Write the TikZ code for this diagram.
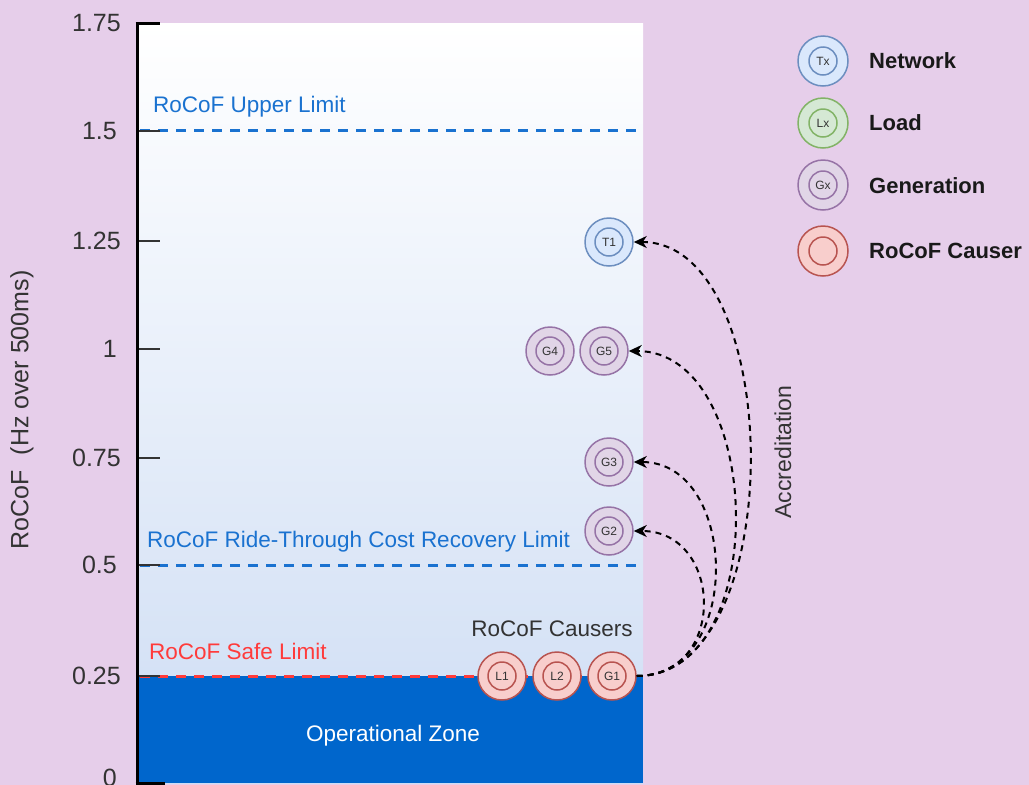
\documentclass[tikz,border=0pt]{standalone}
\usepackage{fontspec}
\setmainfont{Liberation Sans}
\usetikzlibrary{arrows.meta}
\definecolor{bg}{RGB}{230,206,234}
\definecolor{plotblue}{RGB}{206,221,244}
\definecolor{opzone}{HTML}{0066CC}
\definecolor{limitblue}{HTML}{1A72D0}
\definecolor{limitred}{HTML}{FF3B3B}
\definecolor{txt}{HTML}{333333}
\definecolor{netfill}{HTML}{DAE8FC}
\definecolor{netdraw}{HTML}{6C8EBF}
\definecolor{genfill}{HTML}{E1D5E7}
\definecolor{gendraw}{HTML}{9673A6}
\definecolor{loadfill}{HTML}{D5E8D4}
\definecolor{loaddraw}{HTML}{82B366}
\definecolor{causefill}{HTML}{F8CECC}
\definecolor{causedraw}{HTML}{B85450}
\begin{document}
\begin{tikzpicture}[x=1pt,y=-1pt,
  ring/.style 2 args={circle, draw=#2, fill=#1, line width=1.5pt, minimum size=48pt, inner sep=0pt,
    font=\fontsize{12}{12}\selectfont, text=txt,
    path picture={\draw[#2, line width=1.5pt] (path picture bounding box.center) circle (14pt);}},
  ticklabel/.style={anchor=east, text=txt, font=\fontsize{25}{30}\selectfont, inner sep=0pt},
  tickline/.style={draw=txt, line width=1.5pt},
  limitline/.style={line width=3pt, dash pattern=on 10pt off 8pt},
  limitlabel/.style={anchor=west, inner sep=0pt, font=\fontsize{22.5}{27}\selectfont},
  legendlabel/.style={anchor=west, inner sep=0pt, text=black!90, font=\fontsize{22}{26}\selectfont\bfseries},
  acc/.style={draw=black, line width=2pt, dash pattern=on 6pt off 5pt, -{Stealth[length=13pt,width=12pt,inset=4pt]}}
]
\fill[bg] (0,0) rectangle (1029,785);
\useasboundingbox (0,0) rectangle (1029,785);

% plot area
\shade[top color=white, bottom color=plotblue] (137,23) rectangle (643,783);
\fill[opzone] (137,676) rectangle (643,783);
\node[text=white, font=\fontsize{22.5}{27}\selectfont, inner sep=0pt] (opz) at (393,736) {Operational Zone};

% limit lines
\draw[limitline, limitblue] (140,130) -- (643,130);
\draw[limitline, limitblue] (140,565) -- (643,565);
\draw[limitline, limitred] (140,676) -- (643,676);
\node[limitlabel, text=limitblue] (upl) at (153,107) {RoCoF Upper Limit};
\node[limitlabel, text=limitblue] (rtl) at (147,542) {RoCoF Ride-Through Cost Recovery Limit};
\node[limitlabel, text=limitred] (sfl) at (149,651) {RoCoF Safe Limit};

% ticks
\draw[tickline] (137,131) -- (160,131);
\draw[tickline] (137,241) -- (160,241);
\draw[tickline] (137,349) -- (160,349);
\draw[tickline] (137,458) -- (160,458);
\draw[tickline] (137,565) -- (160,565);
\draw[tickline] (137,676) -- (160,676);
\draw[line width=3pt] (137,23) -- (137,785);
\draw[line width=3pt] (135.5,23) -- (160,23);
\draw[line width=3pt] (135.5,783) -- (165,783);
\node[ticklabel] (t175) at (121,23) {1.75};
\node[ticklabel] (t150) at (117,131) {1.5};
\node[ticklabel] (t125) at (121,241) {1.25};
\node[ticklabel] (t100) at (117,349) {1};
\node[ticklabel] (t075) at (121,458) {0.75};
\node[ticklabel] (t050) at (117,565) {0.5};
\node[ticklabel] (t025) at (121,676) {0.25};
\node[ticklabel] (t000) at (117,778) {0};

% axis label
\node[rotate=90, text=txt, font=\fontsize{25}{30}\selectfont, inner sep=0pt] (ylab) at (22,410) {RoCoF\hspace{0.6em}(Hz over 500ms)};

% circles
\node[ring={netfill}{netdraw}] (T1) at (609,242) {T1};
\node[ring={genfill}{gendraw}] (G4) at (550,351) {G4};
\node[ring={genfill}{gendraw}] (G5) at (604,351) {G5};
\node[ring={genfill}{gendraw}] (G3) at (609,462) {G3};
\node[ring={genfill}{gendraw}] (G2) at (609,531) {G2};
\node[ring={causefill}{causedraw}] (L1) at (502,676) {L1};
\node[ring={causefill}{causedraw}] (L2) at (557,676) {L2};
\node[ring={causefill}{causedraw}] (G1) at (612,676) {G1};
\node[text=txt, font=\fontsize{22.5}{27}\selectfont, inner sep=0pt] (causers) at (552,629) {RoCoF Causers};

% accreditation arrows
\draw[acc] (G1.east) .. controls (790,676) and (786,242) .. (T1.east);
\draw[acc] (G1.east) .. controls (774,676) and (764,351) .. (G5.east);
\draw[acc] (G1.east) .. controls (744,676) and (739,462) .. (G3.east);
\draw[acc] (G1.east) .. controls (728,676) and (723,531) .. (G2.east);
\node[rotate=90, text=txt, font=\fontsize{23}{28}\selectfont, inner sep=0pt] (accr) at (783,452) {Accreditation};

% legend
\node[ring={netfill}{netdraw}, minimum size=50pt] (lgT) at (823,61) {Tx};
\node[ring={loadfill}{loaddraw}, minimum size=50pt] (lgL) at (823,123) {Lx};
\node[ring={genfill}{gendraw}, minimum size=50pt] (lgG) at (823,185) {Gx};
\node[ring={causefill}{causedraw}, minimum size=50pt] (lgC) at (823,251) {};
\node[legendlabel] (lgTl) at (869,61) {Network};
\node[legendlabel] (lgLl) at (869,123) {Load};
\node[legendlabel] (lgGl) at (869,186) {Generation};
\node[legendlabel] (lgCl) at (869,251) {RoCoF Causer};
\end{tikzpicture}
\end{document}
